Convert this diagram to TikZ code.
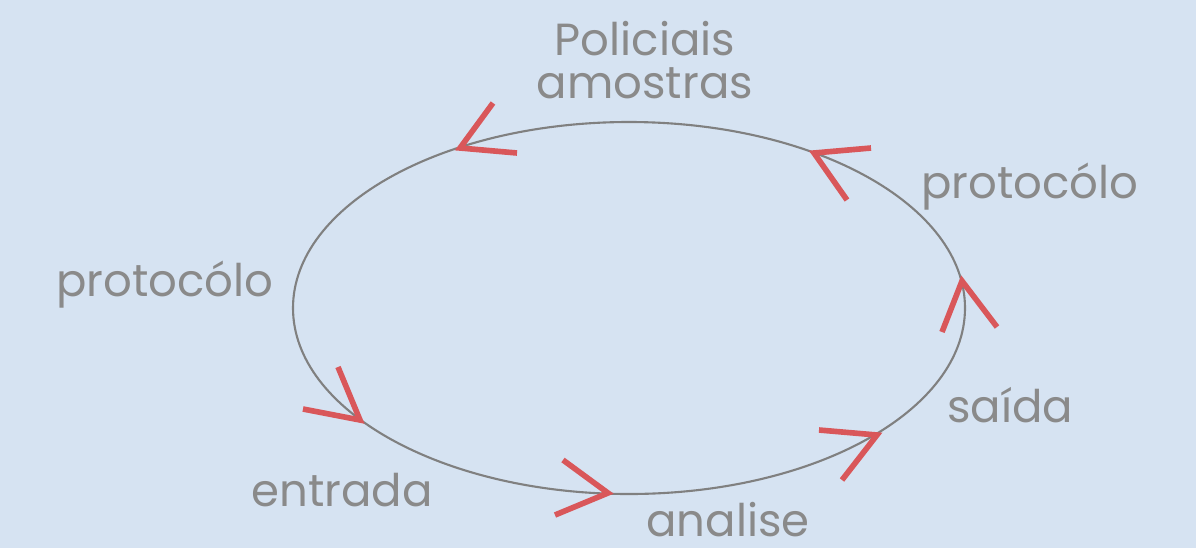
\documentclass[tikz,border=0pt]{standalone}
\usepackage{fontspec}
\setmainfont{Poppins}
\definecolor{bgblue}{HTML}{D6E3F2}
\definecolor{loopgray}{HTML}{808080}
\definecolor{labelgray}{HTML}{8A8A8A}
\definecolor{arrowred}{HTML}{D9575A}
\tikzset{
   label text/.style={text=labelgray, font=\fontsize{32}{30}\selectfont, inner sep=0pt, align=center},
   chevron/.style={draw=arrowred, line width=4pt, line join=miter}
}
\begin{document}
\begin{tikzpicture}[x=0.025cm, y=-0.025cm]
      \useasboundingbox[fill=bgblue] (0,0) rectangle (1196,548);
      % the cycle
      \draw[loopgray, line width=1.5pt] (629,308) ellipse (336 and 186);
      % arrow heads: tip / arm / arm
      \def \Chevrons {
         460/148/493/103/517/153,
         360/420/338/367/303/409,
         608/493/563/460/555/515,
         877/435/819/430/842/480,
         962/281/942/332/997/327,
         814/153/871/148/847/200}
      \foreach \tx / \ty / \ax / \ay / \bx / \by [count=\i] in \Chevrons {
         \coordinate (t\i) at (\tx, \ty);
         \path[chevron] (\ax, \ay) -- (t\i) -- (\bx, \by);
      }
      % labels
      \def \Labels {
         top/645/60/{Policiais\\amostras},
         pright/1030/187/protocólo,
         pleft/165/285/protocólo,
         in/342/490/entrada,
         an/728/520/analise,
         out/1010/405/saída}
      \foreach \no / \x / \y / \na in \Labels {
         \node[label text] (\no) at (\x, \y){\na};
      }
\end{tikzpicture}
\end{document}
